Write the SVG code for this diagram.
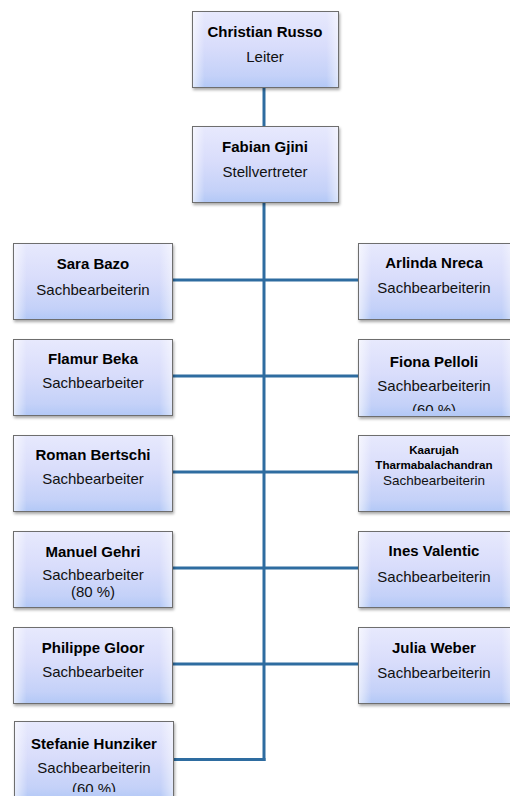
<svg xmlns="http://www.w3.org/2000/svg" width="510" height="796" viewBox="0 0 510 796">
<defs>
<linearGradient id="g" x1="0" y1="0" x2="0" y2="1">
<stop offset="0" stop-color="#e7e9fd"/>
<stop offset="0.45" stop-color="#d9ddfb"/>
<stop offset="0.85" stop-color="#c4d1f8"/>
<stop offset="1" stop-color="#b2c8f6"/>
</linearGradient>
<linearGradient id="hg" x1="0" y1="0" x2="1" y2="0">
<stop offset="0" stop-color="#ffffff" stop-opacity="0.6"/>
<stop offset="0.08" stop-color="#ffffff" stop-opacity="0"/>
<stop offset="0.92" stop-color="#ffffff" stop-opacity="0"/>
<stop offset="1" stop-color="#ffffff" stop-opacity="0.5"/>
</linearGradient>
<filter id="sh" x="-10%" y="-10%" width="125%" height="130%">
<feGaussianBlur in="SourceAlpha" stdDeviation="1.5"/>
<feOffset dx="1" dy="2" result="b"/>
<feComponentTransfer><feFuncA type="linear" slope="0.35"/></feComponentTransfer>
<feMerge><feMergeNode/><feMergeNode in="SourceGraphic"/></feMerge>
</filter>
<clipPath id="cpF"><rect x="358" y="339" width="160" height="72"/></clipPath>
<clipPath id="cpS"><rect x="14" y="721" width="160" height="71"/></clipPath>
</defs>
<style>
.box{fill:url(#g);stroke:#6e6e6e;stroke-width:1;filter:url(#sh)}
.hl{fill:url(#hg);stroke:none}
.n{font-family:"Liberation Sans",Arial,sans-serif;font-size:15px;font-weight:bold;fill:#000;text-anchor:middle}
.t{font-family:"Liberation Sans",Arial,sans-serif;font-size:15px;fill:#111;text-anchor:middle}
.ns{font-family:"Liberation Sans",Arial,sans-serif;font-size:11.6px;font-weight:bold;fill:#000;text-anchor:middle}
.ts{font-family:"Liberation Sans",Arial,sans-serif;font-size:13.5px;fill:#111;text-anchor:middle}
.c{stroke:#2e6ca0;stroke-width:3;fill:none}
</style>
<g id="connectors">
<line class="c" x1="264" y1="87" x2="264" y2="126"/>
<line class="c" x1="264" y1="202" x2="264" y2="761"/>
<line class="c" x1="172" y1="280" x2="358" y2="280"/>
<line class="c" x1="172" y1="376" x2="358" y2="376"/>
<line class="c" x1="172" y1="472" x2="358" y2="472"/>
<line class="c" x1="172" y1="568" x2="358" y2="568"/>
<line class="c" x1="172" y1="664" x2="358" y2="664"/>
<line class="c" x1="172" y1="759.5" x2="265.5" y2="759.5"/>
</g>
<g id="russo">
<rect class="box" x="192.5" y="11.5" width="146" height="76"/>
<rect class="hl" x="193" y="12" width="145" height="75"/>
<text class="n" x="265" y="37">Christian Russo</text>
<text class="t" x="265" y="62">Leiter</text>
</g>
<g id="gjini">
<rect class="box" x="192.5" y="126.5" width="146" height="76"/>
<rect class="hl" x="193" y="127" width="145" height="75"/>
<text class="n" x="265" y="152">Fabian Gjini</text>
<text class="t" x="265" y="177">Stellvertreter</text>
</g>
<g id="bazo">
<rect class="box" x="13.5" y="243.5" width="159" height="76"/>
<rect class="hl" x="14" y="244" width="158" height="75"/>
<text class="n" x="93" y="269">Sara Bazo</text>
<text class="t" x="93" y="295">Sachbearbeiterin</text>
</g>
<g id="nreca">
<rect class="box" x="358.5" y="243.5" width="156" height="76"/>
<rect class="hl" x="359" y="244" width="155" height="75"/>
<text class="n" x="434" y="268">Arlinda Nreca</text>
<text class="t" x="434" y="293">Sachbearbeiterin</text>
</g>
<g id="beka">
<rect class="box" x="13.5" y="339.5" width="159" height="76"/>
<rect class="hl" x="14" y="340" width="158" height="75"/>
<text class="n" x="93" y="364">Flamur Beka</text>
<text class="t" x="93" y="388">Sachbearbeiter</text>
</g>
<g id="pelloli">
<rect class="box" x="358.5" y="339.5" width="156" height="77"/>
<rect class="hl" x="359" y="340" width="155" height="76"/>
<text class="n" x="434" y="367">Fiona Pelloli</text>
<text class="t" x="434" y="391">Sachbearbeiterin</text>
<text class="t" x="434" y="415" clip-path="url(#cpF)">(60 %)</text>
</g>
<g id="bertschi">
<rect class="box" x="13.5" y="435.5" width="159" height="76"/>
<rect class="hl" x="14" y="436" width="158" height="75"/>
<text class="n" x="93" y="460">Roman Bertschi</text>
<text class="t" x="93" y="484">Sachbearbeiter</text>
</g>
<g id="tharmabalachandran">
<rect class="box" x="358.5" y="435.5" width="156" height="76"/>
<rect class="hl" x="359" y="436" width="155" height="75"/>
<text class="ns" x="434" y="454">Kaarujah</text>
<text class="ns" x="434" y="469">Tharmabalachandran</text>
<text class="ts" x="434" y="485">Sachbearbeiterin</text>
</g>
<g id="gehri">
<rect class="box" x="13.5" y="531.5" width="159" height="76"/>
<rect class="hl" x="14" y="532" width="158" height="75"/>
<text class="n" x="93" y="557">Manuel Gehri</text>
<text class="t" x="93" y="580">Sachbearbeiter</text>
<text class="t" x="93" y="597">(80 %)</text>
</g>
<g id="valentic">
<rect class="box" x="358.5" y="531.5" width="156" height="76"/>
<rect class="hl" x="359" y="532" width="155" height="75"/>
<text class="n" x="434" y="556">Ines Valentic</text>
<text class="t" x="434" y="582">Sachbearbeiterin</text>
</g>
<g id="gloor">
<rect class="box" x="13.5" y="627.5" width="159" height="76"/>
<rect class="hl" x="14" y="628" width="158" height="75"/>
<text class="n" x="93" y="653">Philippe Gloor</text>
<text class="t" x="93" y="677">Sachbearbeiter</text>
</g>
<g id="weber">
<rect class="box" x="358.5" y="627.5" width="156" height="76"/>
<rect class="hl" x="359" y="628" width="155" height="75"/>
<text class="n" x="434" y="653">Julia Weber</text>
<text class="t" x="434" y="678">Sachbearbeiterin</text>
</g>
<g id="hunziker">
<rect class="box" x="14.5" y="721.5" width="159" height="78"/>
<rect class="hl" x="15" y="722" width="158" height="77"/>
<text class="n" x="94" y="749">Stefanie Hunziker</text>
<text class="t" x="94" y="773">Sachbearbeiterin</text>
<text class="t" x="94" y="794" clip-path="url(#cpS)">(60 %)</text>
</g>
</svg>
